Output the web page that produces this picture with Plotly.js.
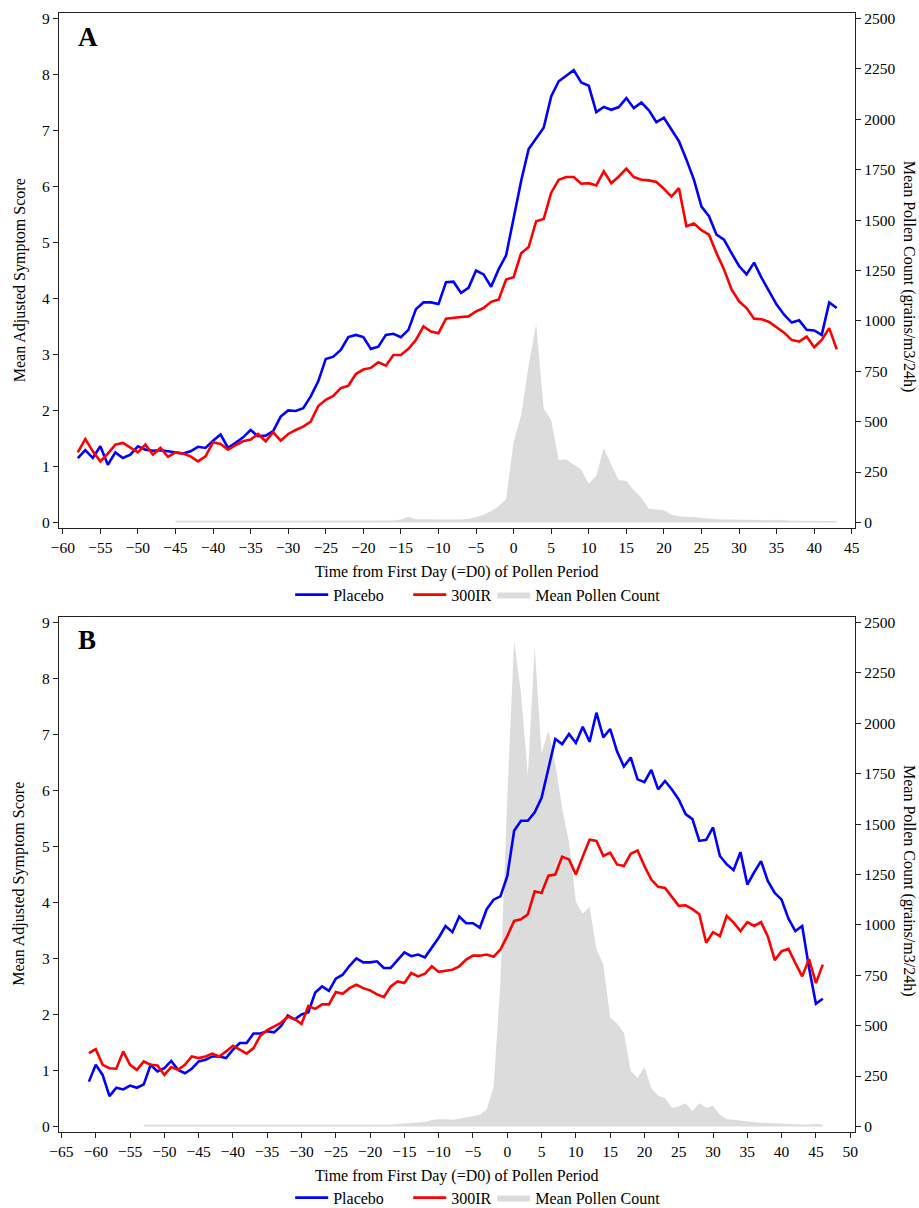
<!DOCTYPE html>
<html>
<head>
<meta charset="utf-8">
<script src="https://cdn.plot.ly/plotly-3.0.1.min.js"></script>
<style>html,body{margin:0;padding:0;background:#fff;}#chart{width:919px;height:1208px;}</style>
</head>
<body>
<div id="chart"></div>
<script>
// ---------- Panel A data (daily values, day 0 = first day of pollen period) ----------
const startA_scores = -58;   // first day of the symptom-score series in panel A
const placeboA = [1.15,1.29,1.15,1.36,1.03,1.25,1.15,1.21,1.36,1.30,1.28,1.29,1.27,1.25,1.23,1.27,1.35,1.33,1.46,1.57,
  1.33,1.42,1.52,1.65,1.54,1.55,1.63,1.89,2.00,1.99,2.04,2.25,2.52,2.92,2.96,3.08,3.31,3.35,3.31,3.10,
  3.14,3.35,3.37,3.31,3.44,3.81,3.93,3.93,3.90,4.29,4.30,4.10,4.19,4.50,4.43,4.21,4.52,4.77,5.47,6.10,
  6.67,6.85,7.05,7.61,7.88,7.98,8.08,7.86,7.80,7.33,7.42,7.37,7.42,7.58,7.40,7.50,7.36,7.15,7.23,7.02,
  6.81,6.48,6.12,5.64,5.47,5.14,5.05,4.81,4.58,4.43,4.64,4.37,4.13,3.89,3.71,3.57,3.61,3.44,3.43,3.35,
  3.93,3.83];
const ir300A = [1.25,1.49,1.27,1.09,1.23,1.39,1.42,1.33,1.25,1.39,1.21,1.33,1.17,1.25,1.23,1.18,1.09,1.18,1.43,1.40,
  1.30,1.38,1.45,1.48,1.58,1.45,1.61,1.46,1.58,1.65,1.71,1.80,2.08,2.19,2.26,2.40,2.44,2.65,2.73,2.76,
  2.86,2.80,2.99,2.99,3.10,3.26,3.50,3.41,3.38,3.64,3.66,3.67,3.68,3.77,3.83,3.94,3.98,4.34,4.38,4.81,
  4.92,5.38,5.42,5.89,6.12,6.17,6.17,6.05,6.06,6.02,6.27,6.06,6.18,6.32,6.17,6.12,6.11,6.08,5.96,5.82,
  5.97,5.29,5.34,5.22,5.14,4.81,4.52,4.16,3.95,3.83,3.64,3.63,3.58,3.48,3.39,3.26,3.23,3.32,3.13,3.26,
  3.47,3.09];
const startA_pollen = -45;   // first day of the pollen series in panel A
const pollenA = [8,8,8,8,8,8,8,8,8,8,8,8,8,8,8,8,8,8,8,8,8,8,8,8,8,8,8,8,8,10,
  14,28,16,17,16,14,13,14,15,18,26,38,55,80,115,400,530,780,985,565,
  508,310,312,285,262,192,232,370,285,210,205,160,122,68,63,60,38,30,28,27,
  22,18,16,14,13,12,12,11,10,11,13,9,8,8,7,7,7,7,7];

// ---------- Panel B data ----------
const startB_scores = -61;
const placeboB = [0.80,1.10,0.92,0.54,0.69,0.66,0.73,0.69,0.75,1.10,0.98,1.04,1.17,1.01,0.95,1.03,1.16,1.19,1.25,1.25,
  1.22,1.37,1.49,1.49,1.66,1.66,1.70,1.68,1.79,1.98,1.91,2.00,2.04,2.39,2.50,2.42,2.64,2.71,2.87,3.00,
  2.93,2.93,2.95,2.83,2.83,2.98,3.11,3.04,3.07,3.02,3.19,3.37,3.58,3.47,3.75,3.63,3.63,3.55,3.88,4.05,
  4.11,4.47,5.28,5.46,5.46,5.61,5.87,6.38,6.92,6.83,7.01,6.85,7.14,6.87,7.39,6.95,7.10,6.70,6.43,6.59,
  6.20,6.15,6.37,6.02,6.17,6.02,5.84,5.58,5.49,5.10,5.12,5.34,4.83,4.68,4.58,4.90,4.32,4.54,4.74,4.38,
  4.17,4.05,3.71,3.49,3.58,2.83,2.19,2.28];
const ir300B = [1.31,1.38,1.10,1.04,1.03,1.34,1.10,1.01,1.16,1.10,1.09,0.92,1.06,1.01,1.10,1.25,1.22,1.25,1.30,1.25,
  1.34,1.44,1.37,1.30,1.40,1.62,1.72,1.79,1.85,1.96,1.92,1.83,2.15,2.10,2.18,2.18,2.40,2.37,2.47,2.53,
  2.47,2.43,2.36,2.31,2.50,2.59,2.56,2.74,2.68,2.73,2.86,2.76,2.78,2.80,2.86,2.98,3.05,3.05,3.07,3.03,
  3.16,3.40,3.67,3.70,3.79,4.20,4.17,4.48,4.50,4.82,4.77,4.50,4.82,5.12,5.10,4.83,4.89,4.68,4.65,4.87,
  4.93,4.65,4.41,4.28,4.26,4.11,3.94,3.95,3.88,3.79,3.28,3.47,3.40,3.76,3.64,3.49,3.65,3.58,3.65,3.39,
  2.97,3.13,3.17,2.92,2.68,2.99,2.56,2.89];
const startB_pollen = -53;
const pollenB = [8,8,8,8,8,8,8,8,8,8,8,8,8,8,8,8,8,8,8,8,8,8,8,8,8,8,8,8,8,8,8,8,8,8,8,8,8,
  12,15,15,18,22,32,36,35,33,38,45,50,58,85,195,710,1630,2410,2150,1740,2380,1850,1965,1800,
  1580,1410,1115,1055,1090,880,805,540,510,465,275,240,295,190,152,140,92,100,115,75,
  115,92,103,58,35,33,28,25,20,18,16,14,13,12,11,10,9,12,10];

const seriesNames = ['Placebo', '300IR', 'Mean Pollen Count'];
const xTitle = 'Time from First Day (=D0) of Pollen Period';
const yLeftTitle = 'Mean Adjusted Symptom Score';
const yRightTitle = 'Mean Pollen Count (grains/m3/24h)';

// ---------- styling ----------
const FONT = 'Liberation Serif, "Times New Roman", Times, serif';
const BLUE = '#0000ff', RED = '#ff0000', GREY = '#dcdcdc', AXC = '#222222';

function lineTrace(name, y, x0, color, xa, ya, legend, lw) {
  return {type:'scatter', mode:'lines', name:name, y:y, x0:x0, dx:1,
    xaxis:xa, yaxis:ya, legend:legend, legendwidth:lw,
    line:{color:color, width:2.6}, hoverinfo:'skip'};
}
function areaTrace(name, y, x0, xa, ya, legend) {
  return {type:'scatter', mode:'lines', name:name, y:y, x0:x0, dx:1,
    xaxis:xa, yaxis:ya, legend:legend, fill:'tozeroy', fillcolor:GREY,
    line:{color:GREY, width:0}, hoverinfo:'skip'};
}

const data = [
  lineTrace(seriesNames[0], placeboA, startA_scores, BLUE, 'x', 'y2', 'legend', 70),
  lineTrace(seriesNames[1], ir300A, startA_scores, RED, 'x', 'y2', 'legend', 36),
  areaTrace(seriesNames[2], pollenA, startA_pollen, 'x', 'y', 'legend'),
  lineTrace(seriesNames[0], placeboB, startB_scores, BLUE, 'x2', 'y4', 'legend2', 70),
  lineTrace(seriesNames[1], ir300B, startB_scores, RED, 'x2', 'y4', 'legend2', 36),
  areaTrace(seriesNames[2], pollenB, startB_pollen, 'x2', 'y3', 'legend2')
];

const PL = 58.5, PR = 855.5, PT = 13.3, PB = 1132.3;
const PW = PR - PL, PH = PB - PT;
const px = X => (X - PL) / PW;
const py = Y => (PB - Y) / PH;

const tickFont = {family:FONT, size:15.5, color:'#000'};
function xAxis(range, tick0, anchor, domain) {
  return {domain:domain, anchor:anchor, range:range, tickmode:'linear', tick0:tick0, dtick:5,
    ticks:'outside', ticklen:5, tickwidth:1, tickcolor:AXC, showline:true, linecolor:AXC, linewidth:1.2,
    mirror:true, showgrid:false, zeroline:false, tickfont:tickFont, fixedrange:true, automargin:false};
}
function yAxis(opts) {
  return Object.assign({ticks:'outside', ticklen:5, tickwidth:1, tickcolor:AXC, showline:true,
    linecolor:AXC, linewidth:1.2, showgrid:false, zeroline:false, tickfont:tickFont, tickmode:'linear',
    tick0:0, fixedrange:true, automargin:false}, opts);
}

const domA = [py(528.3), 1];
const domB = [0, py(617.3)];

const ann = (text, x, y, opts) => Object.assign({text:text, xref:'paper', yref:'paper', x:x, y:y,
  showarrow:false, font:{family:FONT, size:16, color:'#000'}}, opts || {});

const layout = {
  width:919, height:1208,
  margin:{l:PL, r:919 - PR, t:PT, b:1208 - PB, pad:0, autoexpand:false},
  paper_bgcolor:'#fff', plot_bgcolor:'#fff',
  font:{family:FONT, size:16, color:'#000'},
  showlegend:true,
  xaxis: xAxis([-60.5, 45.43], -60, 'y', [0,1]),
  yaxis: yAxis({domain:domA, anchor:'x', side:'right', range:[-27.8, 2527.8], dtick:250}),
  yaxis2: yAxis({overlaying:'y', anchor:'x', side:'left', range:[-0.1, 9.1], dtick:1}),
  xaxis2: xAxis([-65.36, 50.7], -65, 'y3', [0,1]),
  yaxis3: yAxis({domain:domB, anchor:'x2', side:'right', range:[-27.8, 2527.8], dtick:250}),
  yaxis4: yAxis({overlaying:'y3', anchor:'x2', side:'left', range:[-0.1, 9.1], dtick:1}),
  legend:{orientation:'h', x:px(290), xanchor:'left', y:py(595), yanchor:'middle',
    font:{family:FONT, size:16, color:'#000'}, itemwidth:33, bgcolor:'rgba(0,0,0,0)', borderwidth:0},
  legend2:{orientation:'h', x:px(290), xanchor:'left', y:py(1198), yanchor:'middle',
    font:{family:FONT, size:16, color:'#000'}, itemwidth:33, bgcolor:'rgba(0,0,0,0)', borderwidth:0},
  annotations:[
    ann('<b>A</b>', px(76), py(37), {xanchor:'left', yanchor:'middle', font:{family:FONT, size:27, color:'#000'}}),
    ann('<b>B</b>', px(76), py(640), {xanchor:'left', yanchor:'middle', font:{family:FONT, size:27, color:'#000'}}),
    ann(yLeftTitle, px(19), py(281), {textangle:-90, xanchor:'center', yanchor:'middle'}),
    ann(yRightTitle, px(909), py(277.5), {textangle:90, xanchor:'center', yanchor:'middle'}),
    ann(xTitle, 0.5, py(572.3), {xanchor:'center', yanchor:'middle'}),
    ann(yLeftTitle, px(19), py(884.5), {textangle:-90, xanchor:'center', yanchor:'middle'}),
    ann(yRightTitle, px(909), py(881.7), {textangle:90, xanchor:'center', yanchor:'middle'}),
    ann(xTitle, 0.5, py(1176), {xanchor:'center', yanchor:'middle'})
  ]
};

Plotly.newPlot('chart', data, layout, {displayModeBar:false, staticPlot:true});
</script>
</body>
</html>
